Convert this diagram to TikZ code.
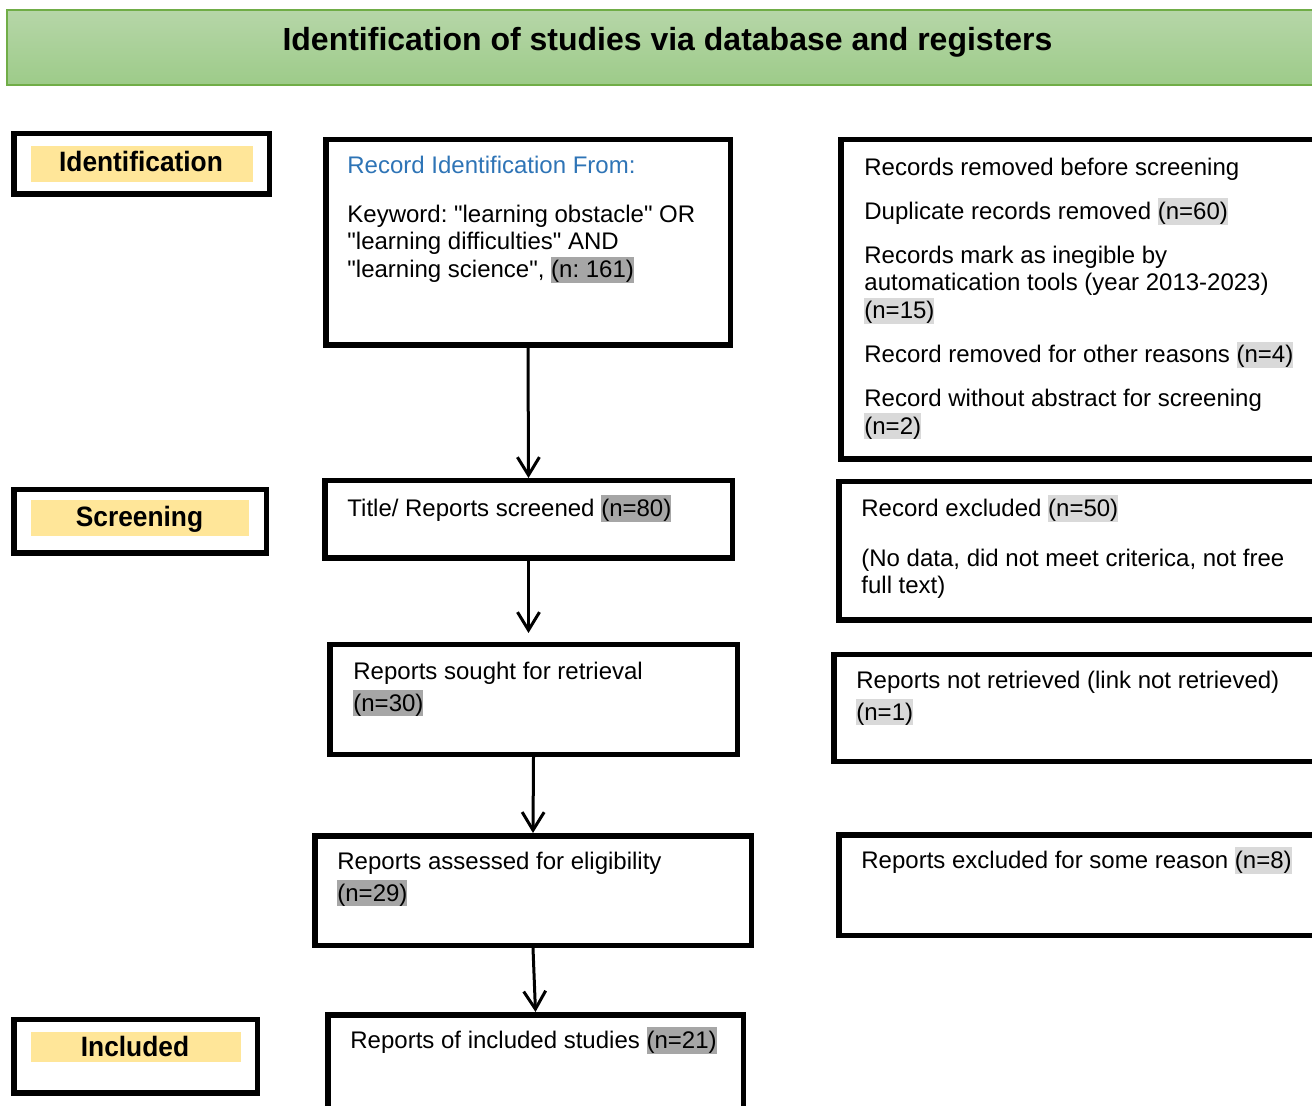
\documentclass[tikz,border=0pt]{standalone}
\usepackage{fontspec}
\setmainfont{Liberation Sans}[Ligatures=TeXOff]
\usepackage{xcolor}
\usepackage{tikz}
\usetikzlibrary{arrows.meta}
\usetikzlibrary{calc,positioning}

\definecolor{bannertop}{RGB}{182,214,168}
\definecolor{bannerbot}{RGB}{157,203,137}
\definecolor{bannerline}{RGB}{112,173,71}
\definecolor{tagyellow}{RGB}{255,230,153}
\definecolor{hldark}{RGB}{166,166,166}
\definecolor{hllight}{RGB}{217,217,217}
\definecolor{headblue}{RGB}{46,116,182}

% strut of one Word line, and highlighted counts
\newcommand{\fst}{\rule[-2.6pt]{0pt}{13.1pt}}
\newcommand{\hlbox}[2]{{\setlength{\fboxsep}{0pt}\colorbox{#1}{\fst#2}}}
\newcommand{\nhi}[1]{\hlbox{hldark}{#1}}
\newcommand{\nlo}[1]{\hlbox{hllight}{#1}}
\frenchspacing

\tikzset{
    stage/.style={draw, line width=2.75pt, inner sep=0pt},
    tag/.style={fill=tagyellow, inner sep=0pt},
    tagtxt/.style={anchor=base, inner sep=0pt, font=\bfseries\fontsize{14}{16}\selectfont},
    txt/.style={anchor=north west, inner sep=0pt, align=left, font=\fontsize{12}{13.8}\selectfont},
    txtw/.style={txt, font=\fontsize{12}{15.87}\selectfont},
    flow/.style={line width=1.5pt, -{Straight Barb[length=9pt, width=11pt]}}
}

\begin{document}
\begin{tikzpicture}[x=0.5pt, y=-0.5pt]

    \useasboundingbox (0,0) rectangle (1312,1106);

    % Banner
    \shade[top color=bannertop, bottom color=bannerbot] (7,10) rectangle (1330,85);
    \draw[bannerline, line width=0.75pt] (7,10) rectangle (1330,85);
    \node[anchor=base, inner sep=0pt, font=\bfseries\fontsize{16}{19}\selectfont] (title) at (667.5,51)
        {Identification of studies via database and registers};

    % Phase labels
    \node[stage, minimum width=127.75pt, minimum height=30.25pt] (idlab) at (141.5,164) {};
    \node[tag, minimum width=111pt, minimum height=18pt] (idtag) at (142,164) {};
    \node[tagtxt] (idtxt) at (141,172) {\scalebox{0.94}[1]{Identification}};

    \node[stage, minimum width=126.25pt, minimum height=31.75pt] (scrlab) at (140,521.5) {};
    \node[tag, minimum width=109pt, minimum height=18pt] (scrtag) at (140,518) {};
    \node[tagtxt] (scrtxt) at (139.5,527) {\scalebox{0.94}[1]{Screening}};

    \node[stage, minimum width=121.75pt, minimum height=36.75pt] (inclab) at (135.5,1056) {};
    \node[tag, minimum width=105pt, minimum height=15pt] (inctag) at (136,1046.5) {};
    \node[tagtxt] (inctxt) at (135,1056.5) {\scalebox{0.94}[1]{Included}};

    % Main column
    \node[stage, minimum width=202.25pt, minimum height=102.75pt] (ident) at (528,242.5) {};
    \node[txt] (identtxt) at (347,152) {{\color{headblue}\fst Record Identification From:}\\[10.7pt]
        Keyword: "learning obstacle" OR\\
        "learning difficulties" AND\\
        "learning science", \nhi{(n: 161)}};

    \node[stage, minimum width=203.75pt, minimum height=38.75pt] (scr) at (528.5,519.5) {};
    \node[txt] (scrtxt2) at (347,495) {\fst Title/ Reports screened \nhi{(n=80)}};

    \node[stage, minimum width=203.75pt, minimum height=54.75pt] (sought) at (533.5,699.5) {};
    \node[txtw] (soughttxt) at (353,658) {\fst Reports sought for retrieval\\ \nhi{(n=30)}};

    \node[stage, minimum width=218.25pt, minimum height=54.75pt] (assess) at (533,890.5) {};
    \node[txtw] (assesstxt) at (337,848) {\fst Reports assessed for eligibility\\ \nhi{(n=29)}};

    \node[stage, minimum width=207.75pt, minimum height=60pt] (incl) at (535.5,1074.75) {};
    \node[txt] (incltxt) at (350,1027) {\fst Reports of included studies \nhi{(n=21)}};

    % Right column
    \node[stage, minimum width=249.6pt, minimum height=159.75pt] (rem) at (1090.4,299.5) {};
    \node[txt] (remtxt) at (864,154) {\fst Records removed before screening\\[8.2pt]
        Duplicate records removed \nlo{(n=60)}\\[8.2pt]
        Records mark as inegible by\\
        automatication tools (year 2013-2023)\\
        \nlo{(n=15)}\\[8.2pt]
        Record removed for other reasons \nlo{(n=4)}\\[8.2pt]
        Record without abstract for screening\\
        \nlo{(n=2)}};

    \node[stage, minimum width=250.6pt, minimum height=69.25pt] (excl) at (1089.4,551) {};
    \node[txt] (excltxt) at (861,495) {\fst Record excluded \nlo{(n=50)}\\[11.2pt]
        (No data, did not meet criterica, not free\\
        full text)};

    \node[stage, minimum width=253.1pt, minimum height=53.25pt] (notret) at (1086.9,708) {};
    \node[txtw] (notrettxt) at (856,667) {\fst Reports not retrieved (link not retrieved)\\ \nlo{(n=1)}};

    \node[stage, minimum width=250.6pt, minimum height=50.25pt] (exclr) at (1089.4,885) {};
    \node[txt] (exclrtxt) at (861,847) {\fst Reports excluded for some reason \nlo{(n=8)}};

    % Arrows
    \draw[flow] (ident.south) -- (scr.north);
    \draw[flow, shorten >=4.5pt] (scr.south) -- (scr.south |- sought.north);
    \draw[flow] (sought.south) -- (assess.north);
    \draw[flow] (assess.south) -- (incl.north);

\end{tikzpicture}
\end{document}
